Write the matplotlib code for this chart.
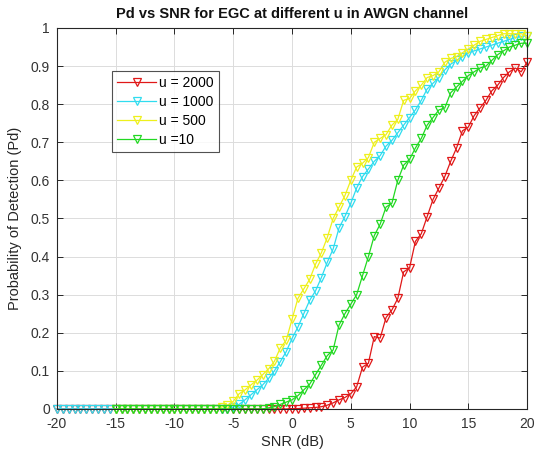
import numpy as np
import matplotlib
matplotlib.use("Agg")
import matplotlib.pyplot as plt

plt.rcParams['font.family'] = ['Liberation Sans', 'DejaVu Sans']
plt.rcParams['axes.unicode_minus'] = False

# SNR axes (dB)
snr_full = np.arange(-20, 20.5, 0.5)   # 81 points (u=2000, u=1000)
snr_part = np.arange(-15, 20.5, 0.5)   # 71 points (u=500, u=10)

pd_u2000 = [
    0, 0, 0, 0, 0, 0, 0, 0, 0, 0,
    0, 0, 0, 0, 0, 0, 0, 0, 0, 0,
    0, 0, 0, 0, 0, 0, 0, 0, 0, 0,
    0, 0, 0, 0, 0, 0, 0, 0, 0,
    0.0, 0.001, 0.001, 0.002, 0.003, 0.004, 0.006, 0.01, 0.016, 0.024,
    0.03, 0.04, 0.058, 0.11, 0.12, 0.19, 0.186, 0.24, 0.26, 0.29,
    0.36, 0.37, 0.44, 0.46, 0.505, 0.55, 0.58, 0.61, 0.65, 0.685,
    0.73, 0.74, 0.77, 0.79, 0.81, 0.835, 0.85, 0.87, 0.885, 0.895,
    0.885, 0.91,
]

pd_u1000 = [
    0, 0, 0, 0, 0, 0, 0, 0, 0, 0,
    0, 0, 0, 0, 0, 0, 0, 0, 0, 0,
    0, 0, 0, 0, 0, 0, 0, 0, 0, 0,
    0.005, 0.012, 0.024, 0.037, 0.05, 0.063, 0.08, 0.10, 0.124, 0.15,
    0.185, 0.215, 0.25, 0.285, 0.31, 0.345, 0.385, 0.42, 0.475, 0.505,
    0.54, 0.58, 0.61, 0.63, 0.65, 0.665, 0.69, 0.705, 0.725, 0.745,
    0.765, 0.785, 0.81, 0.84, 0.855, 0.87, 0.89, 0.905, 0.915, 0.925,
    0.935, 0.94, 0.945, 0.95, 0.955, 0.96, 0.965, 0.97, 0.975, 0.978,
    0.98,
]

pd_u500 = [
    0, 0, 0, 0, 0, 0, 0, 0, 0, 0,
    0, 0, 0, 0, 0, 0, 0, 0,
    0.005, 0.01, 0.02, 0.04, 0.05, 0.063, 0.075, 0.09, 0.105, 0.125,
    0.16, 0.18, 0.235, 0.29, 0.315, 0.34, 0.38, 0.41, 0.45, 0.50,
    0.53, 0.56, 0.60, 0.635, 0.645, 0.66, 0.70, 0.71, 0.72, 0.745,
    0.76, 0.81, 0.815, 0.835, 0.85, 0.87, 0.875, 0.885, 0.91, 0.92,
    0.925, 0.935, 0.945, 0.955, 0.965, 0.97, 0.975, 0.98, 0.985, 0.985,
    0.985, 0.985, 0.98,
]

pd_u10 = [
    0, 0, 0, 0, 0, 0, 0, 0, 0, 0,
    0, 0, 0, 0, 0, 0, 0, 0, 0, 0,
    0, 0, 0, 0, 0, 0,
    0.003, 0.006, 0.012, 0.018, 0.024, 0.035, 0.05, 0.065, 0.09, 0.115,
    0.14, 0.155, 0.22, 0.25, 0.275, 0.30, 0.35, 0.40, 0.455, 0.485,
    0.53, 0.54, 0.60, 0.64, 0.655, 0.685, 0.71, 0.745, 0.765, 0.785,
    0.79, 0.83, 0.845, 0.86, 0.875, 0.885, 0.895, 0.90, 0.915, 0.93,
    0.94, 0.95, 0.955, 0.96, 0.96,
]

series = [
    (snr_full, pd_u2000, 'u = 2000', '#e01818'),
    (snr_full, pd_u1000, 'u = 1000', '#30dcef'),
    (snr_part, pd_u500, 'u = 500', '#eef01c'),
    (snr_part, pd_u10, 'u =10', '#22d822'),
]

fig = plt.figure(figsize=(5.36, 4.59), dpi=100)
ax = fig.add_axes([0.1063, 0.109, 0.877, 0.830])

for x, y, lab, col in series:
    ax.plot(x, y, color=col, lw=0.9, marker='v', markersize=6,
            markerfacecolor='none', markeredgecolor=col, markeredgewidth=0.9,
            label=lab, clip_on=False, zorder=3)

ax.set_xlim(-20, 20)
ax.set_ylim(0, 1)
ax.set_xticks(np.arange(-20, 21, 5))
ax.set_yticks(np.arange(0, 1.01, 0.1))
ax.set_yticklabels(['0', '0.1', '0.2', '0.3', '0.4', '0.5', '0.6', '0.7', '0.8', '0.9', '1'])
ax.grid(True, color='#dcdcdc', lw=0.7)
ax.set_axisbelow(True)
ax.tick_params(direction='in', top=True, right=True, length=4, width=0.7,
               labelsize=10, colors='#262626', labelcolor='#333333')
ax.tick_params(axis='x', pad=6)
ax.tick_params(axis='y', pad=5)
for s in ax.spines.values():
    s.set_color('#262626')
    s.set_linewidth(0.8)
    s.set_zorder(4)

ax.set_xlabel('SNR (dB)', fontsize=10.5, color='#262626', labelpad=3)
ax.set_ylabel('Probability of Detection (Pd)', fontsize=10.5, color='#262626', labelpad=6)
ax.set_title('Pd vs SNR for EGC at different u in AWGN channel', fontsize=10.5,
             fontweight='bold', color='#111111', pad=7)

leg = ax.legend(loc='upper left', bbox_to_anchor=(0.116, 0.888), borderaxespad=0,
                fontsize=10, frameon=True, fancybox=False, handlelength=2.8,
                handletextpad=0.2, labelspacing=0.35, borderpad=0.4)
leg.get_frame().set_edgecolor('#262626')
leg.get_frame().set_linewidth(0.8)
leg.set_zorder(5)

fig.savefig('out.png', dpi=100)
